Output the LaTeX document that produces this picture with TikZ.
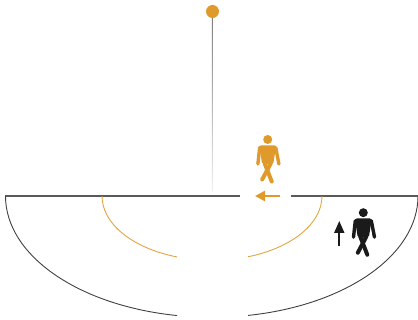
\documentclass[tikz,border=0pt]{standalone}
\usetikzlibrary{arrows.meta}
\definecolor{ochre}{HTML}{DF9A2B}
\definecolor{ink}{HTML}{1A1A1A}
\tikzset{
  x=1pt,y=-1pt,
  ground/.style={draw=black!65,line width=1.2pt},
  outerarc/.style={draw=black!75,line width=0.9pt},
  innerarc/.style={draw=ochre!90,line width=0.9pt},
  limb/.style={line width=3.4pt,line cap=round,line join=round},
  walker/.pic={
    \fill (0,0) circle (4.5);
    \fill[rounded corners=2pt] (-8.5,5.8) -- (8.5,5.8) -- (5.5,25) -- (-5.5,25) -- cycle;
    \draw[limb] (-8,8) -- (-9.8,24.5);
    \draw[limb] (8,8) -- (11.2,24.5);
    \draw[limb,line width=4pt] (-3,24) -- (4,42);
    \draw[limb,line width=4pt] (3,24) -- (-5.5,40);
  }
}
\begin{document}
\begin{tikzpicture}
\useasboundingbox (0,0) rectangle (418,320);
\shade[top color=black!50,bottom color=black!6] (211.75,18) rectangle (212.35,192);
\fill[ochre] (212.5,11.5) circle (6.5);
\draw[ground] (5,196) -- (240,196);
\draw[ground] (291,196) -- (418,196);
\draw[outerarc] (5.5,196) arc[start angle=180,end angle=99.7,x radius=206.5,y radius=121.3];
\draw[outerarc] (418,196) arc[start angle=0,end angle=79.9,x radius=206,y radius=121.3];
\draw[innerarc] (102,196) arc[start angle=180,end angle=108.5,x radius=110,y radius=64.3];
\draw[innerarc] (322,196) arc[start angle=0,end angle=70.9,x radius=110,y radius=64.3];
\pic[color=ochre,fill=ochre] at (267.7,139.5) {walker};
\pic[color=ink,fill=ink] at (363.3,212.7) {walker};
\draw[ochre,line width=2.4pt,-{Triangle[length=10pt,width=10pt]}] (280,196) -- (255,196);
\draw[ink,line width=1.9pt,-{Triangle[length=12pt,width=10pt]}] (339.3,246) -- (339.3,221);
\end{tikzpicture}
\end{document}
